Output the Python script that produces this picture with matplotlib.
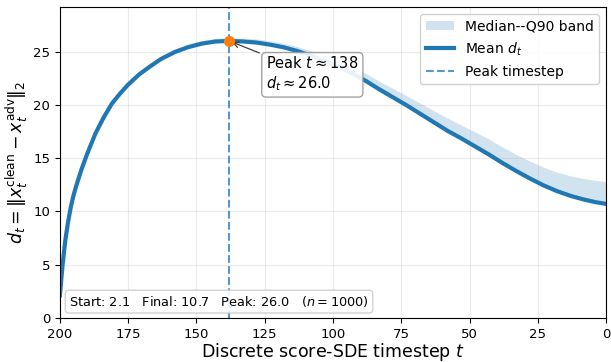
import numpy as np
import matplotlib
matplotlib.use("Agg")
import matplotlib.pyplot as plt

# timesteps and curve values
t = [200, 199, 198, 197, 196, 195, 194, 192, 190, 187, 184, 181, 178, 175, 171,
     167, 163, 158, 153, 148, 143, 138, 133, 128, 123, 118, 113, 108, 103, 98,
     93, 88, 83, 78, 73, 68, 63, 58, 53, 48, 43, 38, 33, 28, 23, 18, 13, 8, 4, 0]
mean_d = [2.1, 5.0, 7.3, 9.0, 10.4, 11.5, 12.4, 14.0, 15.4, 17.3, 18.8, 20.1, 21.05,
          21.9, 22.85, 23.6, 24.3, 24.95, 25.42, 25.75, 25.95, 26.0, 25.95, 25.85,
          25.65, 25.4, 25.05, 24.6, 24.1, 23.6, 22.95, 22.25, 21.45, 20.7, 19.95,
          19.15, 18.35, 17.55, 16.85, 16.1, 15.35, 14.55, 13.8, 13.1, 12.45, 11.9,
          11.45, 11.1, 10.87, 10.7]
median_d = [2.05, 4.95, 7.25, 8.95, 10.35, 11.45, 12.35, 13.95, 15.35, 17.25, 18.75,
            20.05, 21.0, 21.85, 22.8, 23.55, 24.25, 24.9, 25.37, 25.7, 25.9, 25.95,
            25.9, 25.8, 25.6, 25.35, 25.0, 24.55, 24.05, 23.55, 22.9, 22.2, 21.4,
            20.65, 19.9, 19.1, 18.3, 17.5, 16.8, 16.05, 15.3, 14.5, 13.75, 13.05,
            12.4, 11.85, 11.4, 11.05, 10.82, 10.65]
q90_d = [2.2, 5.12, 7.45, 9.15, 10.57, 11.68, 12.6, 14.2, 15.6, 17.52, 19.02, 20.34,
         21.3, 22.15, 23.1, 23.87, 24.57, 25.23, 25.72, 26.05, 26.25, 26.3, 26.27,
         26.19, 26.01, 25.78, 25.47, 25.06, 24.62, 24.18, 23.59, 22.95, 22.21, 21.53,
         20.85, 20.15, 19.45, 18.75, 18.1, 17.45, 16.8, 16.05, 15.35, 14.72, 14.15,
         13.68, 13.33, 13.07, 12.91, 12.8]

peak_t = 138
peak_d = 26.0
start_d = 2.1
final_d = 10.7
n_samples = 1000

fig = plt.figure(figsize=(6.11, 3.62), dpi=100)
ax = fig.add_axes([0.098, 0.122, 0.894, 0.859])

ax.fill_between(t, median_d, q90_d, color="#1f77b4", alpha=0.2, lw=0,
                label="Median--Q90 band")
ax.plot(t, mean_d, color="#1f77b4", lw=3, label="Mean $d_t$")
ax.axvline(peak_t, color="#1f77b4", ls="--", lw=1.5, alpha=0.75,
           label="Peak timestep")
ax.plot([peak_t], [peak_d], "o", color="#ff7f0e", ms=7, zorder=5)

ax.annotate(f"Peak $t \\approx {peak_t}$\n$d_t \\approx {peak_d:.1f}$",
            xy=(peak_t, peak_d), xytext=(124.5, 22.9), ha="left", va="center",
            fontsize=10.5,
            bbox=dict(boxstyle="round,pad=0.3", fc="white", ec="0.6", alpha=0.9),
            arrowprops=dict(arrowstyle="->", color="0.25", lw=0.9))

ax.text(0.017, 0.028,
        f"Start: {start_d:.1f}   Final: {final_d:.1f}   Peak: {peak_d:.1f}   ($n={n_samples}$)",
        transform=ax.transAxes, fontsize=9.3, ha="left", va="bottom",
        bbox=dict(boxstyle="round,pad=0.3", fc="white", ec="0.8", alpha=0.9))

ax.set_xlim(200, 0)
ax.set_ylim(0, 29.2)
ax.set_xticks([200, 175, 150, 125, 100, 75, 50, 25, 0])
ax.set_yticks([0, 5, 10, 15, 20, 25])
ax.tick_params(labelsize=9.5)
ax.grid(True, alpha=0.25)
ax.set_xlabel("Discrete score-SDE timestep $t$", fontsize=12.5, labelpad=0)
ax.set_ylabel(r"$d_t = \|x_t^{\rm clean} - x_t^{\rm adv}\|_2$", fontsize=12.5,
              labelpad=2)
ax.legend(loc="upper right", fontsize=10, framealpha=0.9)

fig.savefig("out.png", dpi=100)
